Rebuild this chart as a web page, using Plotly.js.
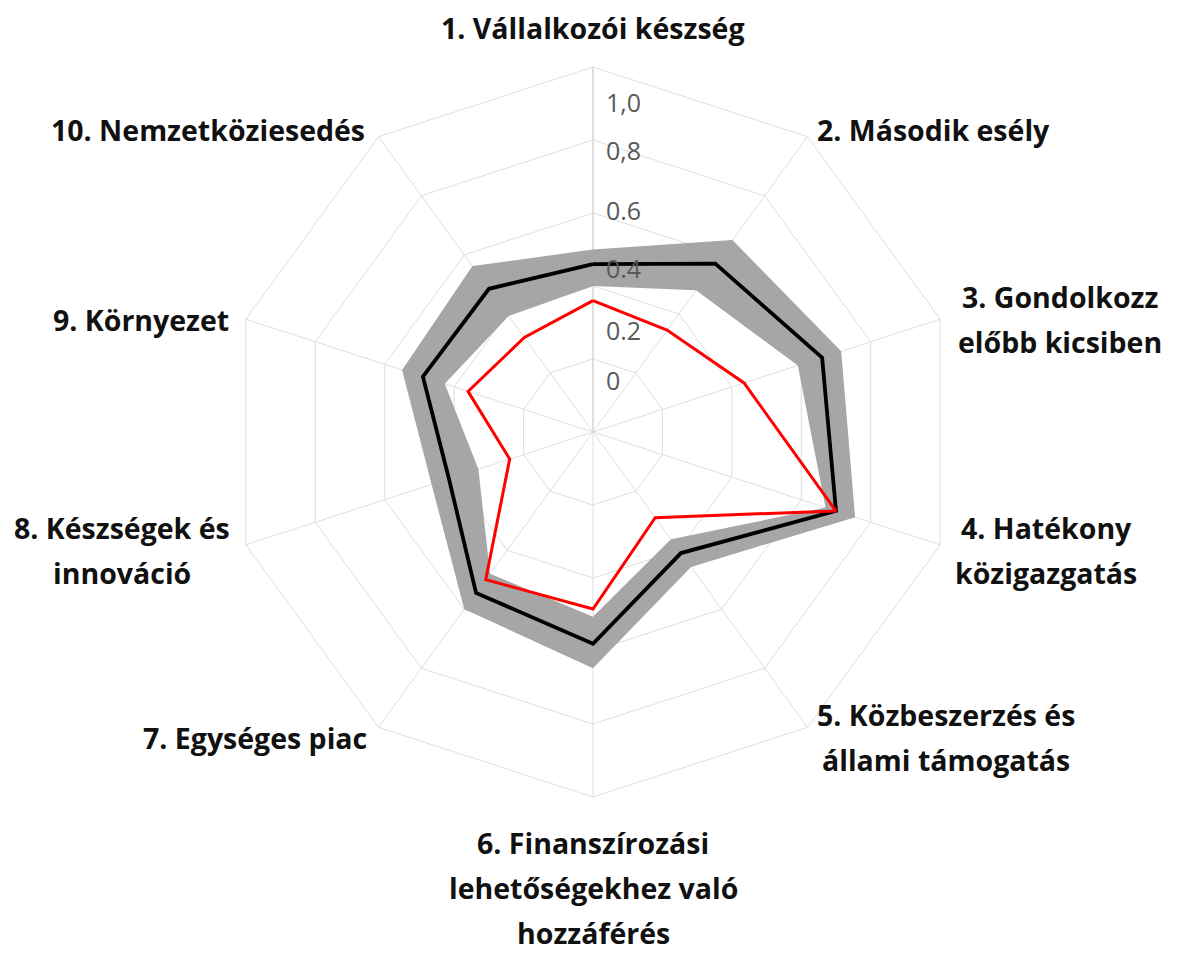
<!DOCTYPE html>
<html><head><meta charset="utf-8">
<script src="https://cdn.plot.ly/plotly-3.0.1.min.js"></script>
<style>html,body{margin:0;padding:0;background:#fff}</style>
</head><body><div id="chart" style="width:1177px;height:953px"></div>
<script>
// ---- data ----
const categories = [
  "1. Vállalkozói készség",
  "2. Második esély",
  "3. Gondolkozz előbb kicsiben",
  "4. Hatékony közigazgatás",
  "5. Közbeszerzés és állami támogatás",
  "6. Finanszírozási lehetőségekhez való hozzáférés",
  "7. Egységes piac",
  "8. Készségek és innováció",
  "9. Környezet",
  "10. Nemzetköziesedés"
];
const hungary   = [0.36, 0.345, 0.435, 0.70, 0.29, 0.485, 0.50, 0.24, 0.36, 0.32];
const euAverage = [0.46, 0.57, 0.66, 0.70, 0.41, 0.58, 0.545, 0.415, 0.49, 0.485];
const rangeMax  = [0.50, 0.65, 0.715, 0.755, 0.457, 0.647, 0.60, 0.465, 0.55, 0.562];
const rangeMin  = [0.40, 0.48, 0.59, 0.67, 0.363, 0.506, 0.48, 0.33, 0.427, 0.393];
const tickLabels = ["1,0", "0,8", "0.6", "0.4", "0.2", "0"];
const labelLines = [
  ["1. Vállalkozói készség"],
  ["2. Második esély"],
  ["3. Gondolkozz", "előbb kicsiben"],
  ["4. Hatékony", "közigazgatás"],
  ["5. Közbeszerzés és", "állami támogatás"],
  ["6. Finanszírozási", "lehetőségekhez való", "hozzáférés"],
  ["7. Egységes piac"],
  ["8. Készségek és", "innováció"],
  ["9. Környezet"],
  ["10. Nemzetköziesedés"]
];

// ---- layout helpers ----
const W = 1177, H = 953;
const px = x => x / W, py = y => 1 - y / H;
const labelPos = [[593,28],[933,130],[1060,297],[1046,528],[946,715],[593,843],[255,738],[122,528],[141,320],[208,130]];
const lineGap = 45;
const tickPos = [102,150,210,268,330,380];

const close = a => a.concat([a[0]]);
const thetaClosed = close(categories);

// band polygon: outer clockwise, then inner reversed (hole)
const bandTheta = thetaClosed.concat(thetaClosed.slice().reverse());
const bandR = close(rangeMax).concat(close(rangeMin).reverse());

const traces = [
  {type:'scatterpolar', mode:'lines', theta: bandTheta, r: bandR, fill:'toself',
   fillcolor:'#a6a6a6', line:{width:0, color:'#a6a6a6'}, hoverinfo:'skip'},
  {type:'scatterpolar', mode:'lines', theta: thetaClosed, r: close(euAverage),
   line:{color:'#000000', width:3.8}},
  {type:'scatterpolar', mode:'lines', theta: thetaClosed, r: close(hungary),
   line:{color:'#ff0000', width:3}}
];

const annotations = [];
labelLines.forEach((lines, i) => {
  lines.forEach((t, j) => {
    annotations.push({xref:'paper', yref:'paper', x: px(labelPos[i][0]), y: py(labelPos[i][1] + j*lineGap),
      xanchor:'center', yanchor:'middle', showarrow:false, text:t,
      font:{family:'"Open Sans", sans-serif', size:28.5, color:'#111111', weight:'bold'}});
  });
});
tickLabels.forEach((t, i) => {
  annotations.push({xref:'paper', yref:'paper', x: px(604), y: py(tickPos[i]),
    xanchor:'left', yanchor:'middle', showarrow:false, text:t,
    font:{family:'"Open Sans", sans-serif', size:25, color:'#595959'}});
});

const layout = {
  width: W, height: H, margin:{l:0,r:0,t:0,b:0},
  paper_bgcolor:'#ffffff', showlegend:false,
  polar:{
    domain:{x:[228/W, 958/W], y:[1-797/H, 1-67/H]},
    bgcolor:'#ffffff',
    gridshape:'linear',
    radialaxis:{range:[0,1], tickvals:[0.2,0.4,0.6,0.8,1.0], showticklabels:false, ticks:'',
      gridcolor:'#dedede', gridwidth:1, showline:true, linecolor:'#cfcfcf', linewidth:1, angle:90, layer:'below traces'},
    angularaxis:{type:'category', categoryarray:categories, direction:'clockwise', rotation:90,
      showticklabels:false, ticks:'', gridcolor:'#dedede', gridwidth:1, showline:true, linecolor:'#dedede', linewidth:1, layer:'below traces'}
  },
  annotations: annotations
};

Plotly.newPlot('chart', traces, layout, {displayModeBar:false, staticPlot:true});
</script></body></html>
